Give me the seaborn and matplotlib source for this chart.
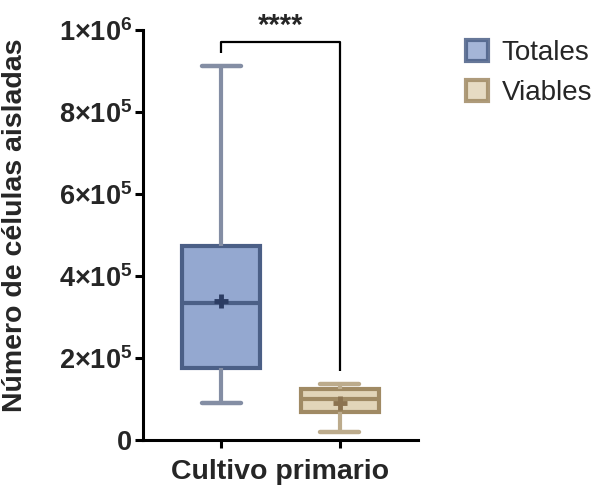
import numpy as np
import pandas as pd
import matplotlib
matplotlib.use("Agg")
import matplotlib.pyplot as plt
from matplotlib.patches import Patch
import seaborn as sns

# ---- data ----
groups = ["Totales", "Viables"]
# five-number summaries: [min, Q1, median, Q3, max]
totales_summary = [91000, 175000, 333000, 473000, 912000]
viables_summary = [20000, 69000, 99000, 124000, 137000]
means = [339000, 91000]
y_ticks = [0, 200000, 400000, 600000, 800000, 1000000]
y_tick_labels = ["0", r"$2{\times}10^{5}$", r"$4{\times}10^{5}$",
                 r"$6{\times}10^{5}$", r"$8{\times}10^{5}$", r"$1{\times}10^{6}$"]
x_label = "Cultivo primario"
y_label = "Número de células aisladas"
sig_label = "****"
bracket_top = 970000
bracket_left_bottom = 944000
bracket_right_bottom = 168000

fills = ["#94a8d0", "#e2d5b9"]
edges = ["#4b5f86", "#a08a64"]
whisker_cols = ["#848ea4", "#bcab8c"]
mean_cols = ["#2b3c63", "#8c7350"]

sns.set_style("ticks")
plt.rcParams["font.family"] = ["Liberation Sans", "DejaVu Sans"]
plt.rcParams["mathtext.fontset"] = "custom"
plt.rcParams["mathtext.rm"] = "Liberation Sans:bold"
plt.rcParams["mathtext.it"] = "Liberation Sans:bold"
plt.rcParams["mathtext.bf"] = "Liberation Sans:bold"

df = pd.DataFrame({
    "group": [groups[0]] * 5 + [groups[1]] * 5,
    "value": totales_summary + viables_summary,
})

fig = plt.figure(figsize=(5.93, 4.86), dpi=100)
ax = fig.add_axes([143 / 593, 1 - 440 / 486, 275 / 593, 410 / 486])

for i, g in enumerate(groups):
    sub = df[df["group"] == g]
    sns.boxplot(data=sub, x="group", y="value", order=groups, ax=ax,
                color=fills[i], linecolor=edges[i], linewidth=3,
                width=0.66, whis=(0, 100), saturation=1, showfliers=False,
                whiskerprops=dict(color=whisker_cols[i], linewidth=3),
                capprops=dict(color=whisker_cols[i], linewidth=3.2),
                medianprops=dict(color=edges[i], linewidth=3),
                boxprops=dict(edgecolor=edges[i], linewidth=3))
    ax.scatter([i], [means[i]], marker="+", s=110, linewidths=3.5,
               color=mean_cols[i], zorder=5)

# significance bracket
ax.plot([0, 0, 1, 1], [bracket_left_bottom, bracket_top, bracket_top, bracket_right_bottom],
        color="black", linewidth=1.6, clip_on=False, solid_capstyle="butt")
ax.text(0.5, bracket_top + 5000, sig_label, ha="center", va="bottom",
        fontsize=21, fontweight="bold", clip_on=False)

ax.set_xlim(-0.66, 1.66)
ax.set_ylim(0, 1000000)
ax.set_yticks(y_ticks)
ax.set_yticklabels(y_tick_labels)
ax.set_xticks([0, 1])
ax.set_xticklabels(["", ""])
for lab in ax.get_yticklabels():
    lab.set_fontweight("bold")
ax.tick_params(axis="both", length=6, width=2.2, labelsize=19.5, color="black", pad=2)
for side in ["left", "bottom"]:
    ax.spines[side].set_linewidth(2.2)
    ax.spines[side].set_color("black")
sns.despine(ax=ax)

ax.set_xlabel(x_label, fontsize=20.5, fontweight="bold", labelpad=6)
ax.set_ylabel(y_label, fontsize=20.5, fontweight="bold")
ax.yaxis.set_label_coords(-0.418, 0.525)

handles = [Patch(facecolor=fills[i], edgecolor=edges[i], linewidth=3, alpha=0.85)
           for i in range(2)]
fig.legend(handles, groups, loc="upper left",
           bbox_to_anchor=(466 / 593, 1 - 40 / 486), frameon=False,
           fontsize=20, handlelength=0.78, handleheight=0.78,
           handletextpad=0.5, labelspacing=0.5, borderpad=0, borderaxespad=0)

fig.savefig("out.png", dpi=100)
